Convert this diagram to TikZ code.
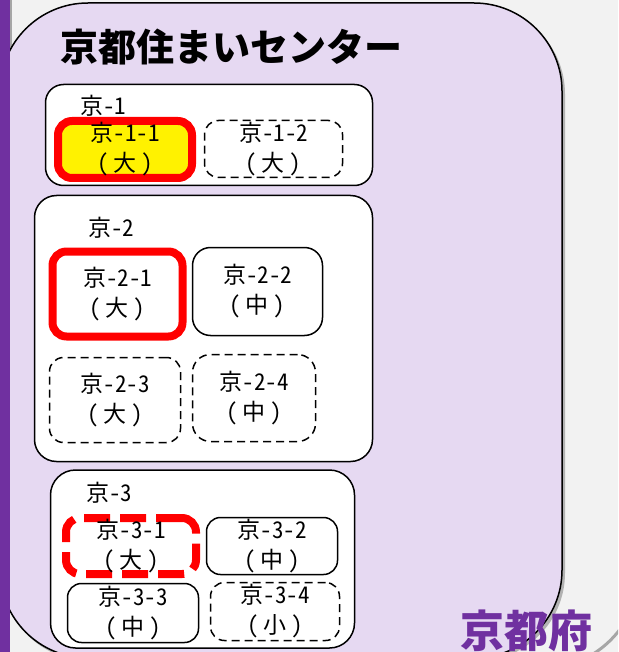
\documentclass[tikz,border=0pt]{standalone}
\usepackage{fontspec}
\setmainfont{Noto Sans CJK JP}
\newfontfamily\roomfont[RawFeature=+hwid]{Noto Sans CJK JP}
\usepackage{tikz}

\definecolor{kpurple}{HTML}{7030A0}
\definecolor{klavender}{HTML}{E6D9F2}
\definecolor{kbg}{HTML}{F2F2F2}
\newcommand{\roomsize}[1]{（\kern5pt#1\kern5pt）}

\begin{document}
\begin{tikzpicture}[x=1pt,y=-1pt,
    every node/.style={font=\roomfont\fontsize{23}{30}\selectfont,align=center,inner sep=0pt},
    group/.style={rectangle,draw=black,line width=1.5pt,fill=white,rounded corners=18pt},
    room/.style={rectangle,draw=black,line width=1.5pt,fill=white,rounded corners=14pt},
    vacant/.style={room,dash pattern=on 8pt off 5pt},
    picked/.style={room,draw=red,line width=8pt}]
    \useasboundingbox (0,0) rectangle (618,652);
    \clip (0,0) rectangle (618,652);
    % backdrop
    \fill[kbg] (0,0) rectangle (618,652);
    \fill[gray!70] (10,0) rectangle (12,60);
    \fill[gray!60,rounded corners=88pt] (2,6) rectangle (565,661);
    \draw[fill=klavender,line width=1.5pt,rounded corners=88pt] (0,3) rectangle (562,658);
    \fill[kpurple] (0,0) rectangle (10,652);
    \draw[gray!70,line width=3pt] (590,656) .. controls (603,648) and (612,640) .. (621,628);
    \node[font=\fontsize{38}{40}\selectfont\bfseries,anchor=west] (title) at (60,47) {京都住まいセンター};
    \node[font=\fontsize{44}{48}\selectfont\bfseries,text=kpurple] (pref) at (526,631) {京都府};

    % 京-1
    \node[group,minimum width=327pt,minimum height=101pt] (g1) at (209,135) {};
    \node[anchor=west] (g1lbl) at (80,106) {京-1};
    \node[picked,fill=yellow,minimum width=134pt,minimum height=57pt] (k11) at (125,149.5) {京-1-1\\\roomsize{大}};
    \node[vacant,minimum width=138pt,minimum height=57pt] (k12) at (273.5,149) {京-1-2\\\roomsize{大}};

    % 京-2
    \node[group,rounded corners=22pt,minimum width=338pt,minimum height=266pt] (g2) at (203.5,328.5) {};
    \node[anchor=west] (g2lbl) at (88,228) {京-2};
    \node[picked,minimum width=130pt,minimum height=85pt] (k21) at (117.5,294) {京-2-1\\\roomsize{大}};
    \node[room,rounded corners=18pt,minimum width=130pt,minimum height=88pt] (k22) at (257.5,291.5) {京-2-2\\\roomsize{中}};
    \node[vacant,minimum width=131pt,minimum height=85pt] (k23) at (115,400) {京-2-3\\\roomsize{大}};
    \node[vacant,rounded corners=18pt,minimum width=123pt,minimum height=87pt] (k24) at (254,398) {京-2-4\\\roomsize{中}};

    % 京-3
    \node[group,rounded corners=25pt,minimum width=304pt,minimum height=178pt] (g3) at (202.5,559) {};
    \node[anchor=west] (g3lbl) at (86,493) {京-3};
    \node[picked,dash pattern=on 26pt off 10pt,minimum width=130pt,minimum height=56pt] (k31) at (131,546) {京-3-1\\\roomsize{大}};
    \node[room,minimum width=131pt,minimum height=57pt] (k32) at (272,546) {京-3-2\\\roomsize{中}};
    \node[room,minimum width=131pt,minimum height=59pt] (k33) at (133,613) {京-3-3\\\roomsize{中}};
    \node[vacant,minimum width=129pt,minimum height=58pt] (k34) at (275,611.5) {京-3-4\\\roomsize{小}};
\end{tikzpicture}
\end{document}
